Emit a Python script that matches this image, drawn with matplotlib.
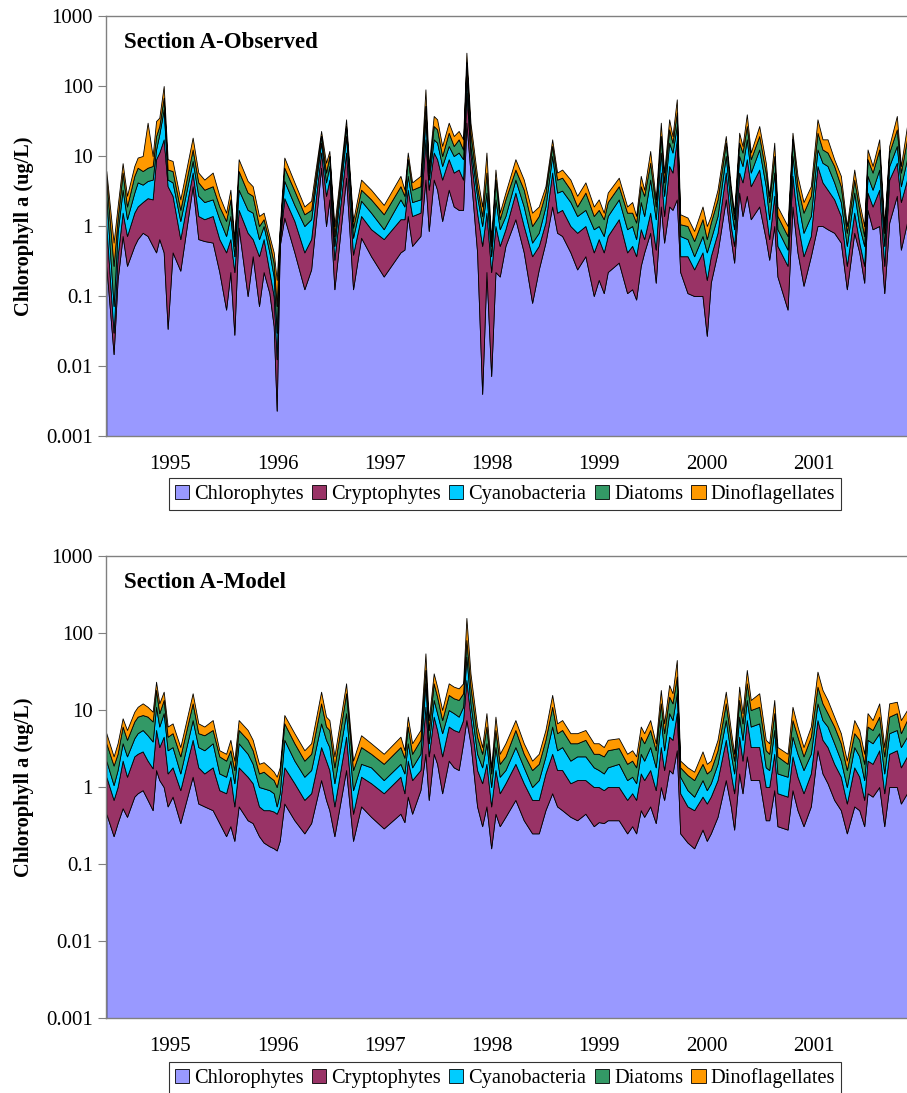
import numpy as np
import matplotlib.pyplot as plt
from matplotlib.patches import Patch
from matplotlib.ticker import NullLocator

plt.rcParams['font.family'] = ['Liberation Serif', 'DejaVu Serif']

# sample dates (decimal years), shared by both panels
dates = [1994.403, 1994.471, 1994.508, 1994.555, 1994.596, 1994.664, 1994.695, 1994.742, 1994.788, 1994.835,
         1994.867, 1994.897, 1994.938, 1994.975, 1995.021, 1995.093, 1995.208, 1995.261, 1995.317, 1995.395,
         1995.457, 1995.520, 1995.560, 1995.597, 1995.637, 1995.721, 1995.768, 1995.827, 1995.870, 1995.924,
         1995.964, 1995.992, 1996.020, 1996.063, 1996.157, 1996.250, 1996.313, 1996.406, 1996.452, 1996.483,
         1996.530, 1996.639, 1996.704, 1996.779, 1996.872, 1996.990, 1997.146, 1997.183, 1997.214, 1997.255,
         1997.332, 1997.379, 1997.410, 1997.456, 1997.488, 1997.535, 1997.596, 1997.643, 1997.689, 1997.730,
         1997.761, 1997.799, 1997.861, 1997.908, 1997.948, 1997.992, 1998.032, 1998.072, 1998.125, 1998.218,
         1998.296, 1998.374, 1998.436, 1998.498, 1998.561, 1998.607, 1998.654, 1998.731, 1998.794, 1998.871,
         1998.949, 1998.995, 1999.042, 1999.079, 1999.182, 1999.260, 1999.307, 1999.344, 1999.387, 1999.419,
         1999.475, 1999.527, 1999.574, 1999.605, 1999.652, 1999.683, 1999.723, 1999.755, 1999.823, 1999.885,
         1999.963, 2000.003, 2000.040, 2000.103, 2000.180, 2000.227, 2000.258, 2000.305, 2000.336, 2000.376,
         2000.413, 2000.492, 2000.553, 2000.585, 2000.632, 2000.662, 2000.756, 2000.802, 2000.849, 2000.905,
         2000.973, 2001.035, 2001.082, 2001.129, 2001.191, 2001.253, 2001.309, 2001.378, 2001.425, 2001.471,
         2001.502, 2001.549, 2001.611, 2001.658, 2001.704, 2001.775, 2001.813, 2001.870]

groups = ['Chlorophytes', 'Cryptophytes', 'Cyanobacteria', 'Diatoms', 'Dinoflagellates']
colors = ['#9999FF', '#993366', '#00CCFF', '#339966', '#FF9900']
years = [1995, 1996, 1997, 1998, 1999, 2000, 2001]

# Observed: stacked totals (top of each band, ug/L)
obs_chl = [0.27, 0.0148, 0.17, 0.72, 0.27, 0.52, 0.65, 0.80, 0.72, 0.52,
           0.42, 0.65, 0.42, 0.034, 0.42, 0.23, 3.7, 0.65, 0.61, 0.58,
           0.22, 0.064, 0.22, 0.028, 0.95, 0.10, 0.37, 0.072, 0.22, 0.11,
           0.037, 0.0023, 0.52, 1.32, 0.42, 0.125, 0.24, 6.8, 1.0, 2.4,
           0.125, 4.9, 0.125, 0.68, 0.37, 0.19, 0.42, 0.46, 1.39, 0.52,
           0.72, 4.6, 0.85, 4.6, 3.3, 1.18, 3.3, 1.9, 1.7, 1.7,
           29.9, 5.8, 0.42, 0.0040, 0.22, 0.0072, 0.22, 0.19, 0.52, 1.25,
           0.42, 0.080, 0.24, 0.58, 1.9, 0.80, 0.72, 0.42, 0.24, 0.37,
           0.10, 0.17, 0.11, 0.22, 0.30, 0.11, 0.125, 0.089, 0.27, 0.42,
           0.80, 0.155, 1.9, 0.58, 1.9, 1.7, 2.4, 0.22, 0.11, 0.10,
           0.10, 0.027, 0.155, 0.42, 2.4, 0.65, 0.30, 3.0, 1.39, 2.7,
           1.25, 1.9, 0.65, 0.33, 1.0, 0.19, 0.064, 1.9, 0.42, 0.14,
           0.37, 1.0, 1.0, 0.90, 0.80, 0.58, 0.125, 0.80, 0.42, 0.155,
           1.7, 0.90, 1.0, 0.11, 1.12, 2.7, 0.46, 1.12]
obs_cry = [1.0, 0.030, 0.37, 1.55, 0.72, 1.55, 1.9, 2.2, 2.5, 2.4,
           9.0, 11.2, 17.3, 3.7, 2.7, 0.65, 5.8, 1.39, 1.25, 1.39,
           0.65, 0.42, 0.65, 0.22, 1.7, 0.80, 0.65, 0.37, 0.65, 0.22,
           0.10, 0.0125, 0.61, 2.5, 1.18, 0.42, 0.65, 11.2, 2.7, 4.6,
           0.33, 11.2, 0.39, 1.39, 0.90, 0.65, 1.25, 1.25, 3.3, 1.39,
           1.55, 17.3, 3.3, 11.2, 9.0, 4.6, 9.0, 5.8, 6.4, 4.6,
           80, 10.6, 1.55, 0.52, 1.55, 0.22, 1.0, 0.52, 0.90, 3.0,
           1.0, 0.37, 0.52, 1.12, 5.8, 1.55, 1.7, 1.0, 0.80, 1.0,
           0.42, 0.65, 0.42, 0.72, 1.25, 0.42, 0.52, 0.37, 0.90, 0.65,
           1.55, 0.46, 5.8, 1.39, 7.2, 5.8, 17.3, 0.37, 0.37, 0.24,
           0.42, 0.17, 0.37, 0.80, 5.8, 1.0, 0.52, 5.8, 4.2, 9.0,
           3.7, 6.4, 1.55, 0.65, 2.7, 0.52, 0.27, 5.2, 1.12, 0.37,
           0.72, 7.2, 4.2, 3.3, 2.4, 1.39, 0.27, 1.55, 0.58, 0.27,
           3.0, 1.9, 3.3, 0.27, 4.6, 8.0, 2.2, 4.6]
obs_cya = [2.7, 0.072, 0.80, 3.3, 1.25, 3.0, 4.2, 3.9, 4.4, 4.6,
           12.4, 20.4, 46.4, 4.6, 4.2, 1.18, 8.5, 2.7, 2.2, 2.4,
           1.25, 0.72, 1.39, 0.37, 3.3, 1.7, 1.55, 0.65, 1.0, 0.42,
           0.19, 0.030, 0.68, 4.4, 2.0, 1.0, 1.25, 15.5, 4.2, 7.2,
           0.52, 19.3, 0.68, 2.3, 1.55, 0.90, 2.4, 1.9, 5.2, 2.2,
           2.4, 33.4, 4.6, 17.3, 15.5, 7.2, 13.9, 10, 11.2, 9.0,
           139, 13.9, 2.7, 1.0, 3.0, 0.37, 2.4, 0.90, 1.39, 4.6,
           1.9, 0.58, 0.80, 1.9, 10, 3.0, 3.2, 2.2, 1.39, 1.7,
           0.90, 1.0, 0.72, 1.39, 2.4, 0.90, 1.0, 0.65, 2.2, 1.39,
           4.6, 1.25, 11.2, 2.7, 15.5, 11.2, 26.8, 0.72, 0.65, 0.37,
           0.72, 0.42, 0.65, 1.39, 10, 1.9, 0.90, 10, 7.2, 17.3,
           5.8, 12.4, 3.7, 1.25, 5.8, 0.90, 0.46, 10, 2.4, 0.80,
           1.39, 12.4, 8.0, 7.2, 4.2, 2.2, 0.52, 3.0, 1.0, 0.52,
           5.2, 3.3, 6.4, 0.52, 7.2, 13.9, 3.7, 9.0]
obs_dia = [4.6, 0.27, 1.25, 5.8, 1.9, 5.2, 6.8, 6.1, 6.8, 7.2,
           19.3, 26.8, 68, 6.4, 6.1, 1.7, 12.4, 4.2, 3.3, 3.7,
           1.9, 1.18, 2.4, 0.52, 6.1, 3.0, 2.7, 1.0, 1.25, 0.58,
           0.30, 0.072, 0.80, 6.8, 3.2, 1.47, 1.7, 19.3, 5.8, 10,
           0.72, 26.8, 0.95, 3.3, 2.4, 1.47, 3.7, 2.7, 9.0, 3.3,
           3.7, 51.8, 5.8, 26.8, 24.0, 10, 21.5, 13.9, 17.3, 12.4,
           216, 21.5, 3.7, 1.39, 5.8, 0.52, 4.6, 1.25, 2.4, 6.4,
           3.3, 1.0, 1.39, 3.0, 13.9, 4.6, 4.9, 3.3, 1.9, 3.0,
           1.39, 1.7, 1.25, 2.2, 3.7, 1.55, 1.55, 1.12, 3.7, 2.7,
           8.0, 1.9, 19.3, 4.2, 24.0, 15.5, 41.6, 1.06, 1.0, 0.61,
           1.25, 0.65, 1.12, 2.4, 15.5, 3.0, 1.25, 15.5, 11.2, 26.8,
           9.0, 19.3, 5.8, 2.2, 10, 1.39, 0.72, 17.3, 3.7, 1.55,
           2.7, 21.5, 12.4, 11.2, 7.2, 3.7, 0.80, 4.6, 1.7, 0.72,
           9.0, 5.8, 12.4, 0.80, 11.2, 24.0, 5.8, 17.3]
obs_din = [6.1, 0.58, 1.9, 7.9, 2.7, 7.2, 9.5, 10, 29.9, 10,
           31.6, 35.3, 100, 9.0, 8.5, 2.4, 18.3, 5.8, 4.6, 5.8,
           2.7, 1.55, 3.3, 0.65, 9.0, 4.4, 3.7, 1.39, 1.55, 0.72,
           0.42, 0.17, 0.95, 9.5, 4.2, 1.9, 2.3, 22.8, 8.0, 11.8,
           1.0, 33.4, 1.18, 4.6, 3.3, 2.0, 5.2, 3.3, 11.2, 4.2,
           5.2, 89.6, 7.2, 37.3, 33.4, 13.9, 29.9, 19.3, 22.8, 17.3,
           299, 29.9, 5.2, 1.9, 11.2, 0.65, 6.4, 1.55, 3.0, 9.0,
           4.6, 1.55, 1.9, 3.7, 17.3, 5.8, 6.4, 4.6, 2.7, 4.2,
           1.9, 2.4, 1.55, 3.0, 4.9, 1.9, 2.2, 1.39, 5.2, 3.3,
           11.8, 2.4, 29.9, 5.8, 33.4, 19.3, 64.5, 1.47, 1.32, 0.85,
           1.9, 1.0, 1.39, 3.3, 19.3, 3.7, 1.55, 21.5, 13.9, 39.4,
           11.2, 26.8, 8.0, 2.7, 15.5, 1.9, 1.0, 21.5, 5.2, 2.2,
           3.7, 33.4, 17.3, 17.3, 9.0, 5.2, 1.0, 6.4, 2.2, 1.0,
           12.4, 7.2, 17.3, 1.0, 13.9, 37.3, 7.2, 26.8]

# Model: stacked totals (top of each band, ug/L)
mod_chl = [0.45, 0.23, 0.34, 0.53, 0.41, 0.75, 0.83, 0.91, 0.68, 0.50,
           1.66, 1.23, 1.0, 0.56, 0.75, 0.34, 1.36, 0.61, 0.56, 0.50,
           0.34, 0.23, 0.31, 0.20, 0.56, 0.37, 0.34, 0.23, 0.19, 0.17,
           0.16, 0.15, 0.20, 0.61, 0.37, 0.25, 0.34, 1.23, 0.68, 0.50,
           0.23, 1.66, 0.20, 0.56, 0.41, 0.29, 0.45, 0.35, 0.75, 0.45,
           0.91, 2.7, 0.68, 2.7, 2.0, 0.83, 2.2, 1.8, 1.66, 3.7,
           7.4, 3.7, 0.56, 0.31, 0.56, 0.16, 0.45, 0.31, 0.41, 0.68,
           0.37, 0.25, 0.25, 0.50, 0.83, 0.56, 0.50, 0.41, 0.37, 0.45,
           0.31, 0.35, 0.34, 0.37, 0.37, 0.25, 0.31, 0.25, 0.50, 0.41,
           0.56, 0.34, 1.0, 0.68, 1.66, 1.50, 3.0, 0.25, 0.19, 0.16,
           0.28, 0.20, 0.25, 0.41, 1.23, 0.56, 0.28, 1.50, 0.83, 2.5,
           1.23, 1.23, 0.37, 0.37, 0.91, 0.31, 0.28, 0.91, 0.50, 0.31,
           0.56, 3.0, 1.50, 1.12, 0.68, 0.50, 0.25, 0.56, 0.50, 0.31,
           0.83, 0.75, 1.0, 0.31, 1.0, 1.0, 0.61, 0.83]
mod_cry = [1.36, 0.68, 1.0, 2.2, 1.36, 2.5, 2.7, 2.9, 2.2, 1.75,
           5.5, 3.3, 4.5, 1.50, 1.8, 0.91, 4.1, 1.8, 1.50, 1.8,
           0.91, 0.83, 1.36, 0.56, 1.8, 1.36, 1.12, 0.56, 0.50, 0.50,
           0.48, 0.45, 0.56, 1.8, 1.12, 0.68, 0.83, 3.3, 2.2, 1.66,
           0.56, 4.5, 0.45, 1.36, 1.12, 0.83, 1.36, 0.83, 2.2, 1.23,
           1.66, 11.0, 2.5, 8.2, 5.5, 2.5, 6.1, 5.5, 5.2, 7.4,
           24.5, 8.2, 1.66, 1.12, 2.0, 0.56, 1.66, 0.83, 1.12, 2.0,
           1.12, 0.68, 0.68, 1.50, 2.7, 1.66, 1.66, 1.12, 1.23, 1.23,
           1.0, 1.0, 0.91, 1.0, 1.0, 0.68, 0.83, 0.68, 1.50, 1.23,
           1.66, 0.91, 3.3, 1.66, 4.5, 4.1, 9.1, 0.83, 0.56, 0.50,
           0.75, 0.61, 0.75, 1.23, 4.1, 1.50, 0.83, 4.5, 2.2, 7.4,
           3.3, 3.3, 1.0, 1.0, 2.7, 0.83, 0.75, 2.5, 1.36, 0.83,
           1.50, 7.4, 4.1, 3.3, 2.0, 1.36, 0.61, 1.8, 1.36, 0.68,
           2.2, 2.0, 3.0, 0.83, 2.7, 3.0, 1.8, 2.5]
mod_cya = [2.2, 1.06, 1.66, 3.7, 2.5, 4.3, 5.0, 5.5, 4.7, 3.9,
           11.0, 6.1, 9.1, 3.0, 3.3, 1.50, 7.4, 3.3, 3.0, 3.7,
           1.50, 1.36, 2.2, 1.12, 3.7, 2.7, 2.0, 1.0, 0.96, 0.91,
           0.83, 0.56, 0.83, 4.1, 2.2, 1.36, 1.66, 6.7, 4.1, 3.3,
           1.12, 9.1, 0.91, 2.0, 1.8, 1.23, 2.0, 1.50, 3.7, 1.8,
           2.7, 22.2, 3.7, 13.5, 9.1, 5.0, 10, 9.1, 8.2, 11.0,
           49.3, 12.2, 2.7, 1.8, 3.7, 1.0, 3.3, 1.36, 1.66, 3.3,
           1.8, 1.0, 1.23, 2.5, 6.1, 3.0, 3.3, 2.2, 2.5, 2.5,
           1.8, 1.66, 1.50, 1.8, 2.0, 1.23, 1.36, 1.12, 2.7, 2.2,
           3.3, 1.8, 7.4, 3.0, 9.1, 7.4, 16.5, 1.36, 0.91, 0.75,
           1.23, 0.91, 1.12, 2.0, 7.4, 2.7, 1.50, 8.2, 4.1, 13.5,
           6.1, 6.7, 1.8, 1.66, 5.5, 1.50, 1.36, 4.5, 2.7, 1.66,
           2.7, 12.2, 7.4, 6.1, 3.7, 2.2, 1.0, 3.3, 2.5, 1.23,
           4.1, 3.7, 5.0, 1.50, 5.0, 5.5, 3.3, 4.5]
mod_dia = [3.7, 1.9, 2.7, 6.1, 4.1, 7.1, 8.2, 8.6, 8.2, 7.1,
           18.2, 9.1, 13.5, 4.5, 5.0, 2.5, 12.2, 5.0, 4.7, 5.5,
           2.5, 2.2, 3.0, 1.66, 5.5, 4.1, 3.0, 1.50, 1.58, 1.36,
           1.23, 1.0, 1.50, 6.7, 3.7, 2.2, 2.7, 12.2, 6.1, 5.5,
           1.8, 16.5, 1.66, 3.3, 2.7, 2.0, 3.3, 2.4, 6.1, 2.7,
           4.1, 33.1, 5.5, 22.2, 14.9, 7.4, 15.7, 14.2, 13.5, 16.5,
           81, 20.1, 4.5, 2.7, 6.1, 1.50, 5.5, 2.0, 2.5, 5.5,
           2.7, 1.66, 2.0, 4.1, 11.0, 5.0, 5.5, 3.7, 3.7, 4.1,
           2.7, 2.7, 2.5, 3.0, 3.2, 2.0, 2.2, 1.8, 4.5, 3.7,
           5.5, 3.0, 12.2, 5.0, 14.9, 12.2, 27.1, 1.8, 1.43, 1.23,
           2.0, 1.50, 1.66, 3.0, 12.2, 4.1, 2.2, 13.5, 6.7, 22.2,
           10, 11.0, 3.0, 2.7, 9.1, 2.5, 2.0, 7.4, 4.5, 2.5,
           4.5, 20.1, 12.2, 9.1, 6.1, 3.7, 1.66, 5.0, 4.1, 2.0,
           6.1, 5.5, 8.2, 2.5, 8.2, 9.1, 5.0, 7.4]
mod_din = [5.0, 2.5, 3.7, 7.8, 5.5, 9.5, 11.0, 12.2, 11.0, 9.5,
           23.3, 12.2, 17.3, 6.1, 6.7, 3.3, 16.5, 6.7, 6.1, 7.4,
           3.0, 2.7, 4.1, 2.2, 7.4, 5.5, 4.1, 2.0, 2.1, 1.8,
           1.58, 1.36, 1.8, 8.6, 5.0, 3.0, 3.7, 17.3, 8.2, 7.4,
           2.5, 22.2, 2.2, 4.7, 3.7, 2.7, 4.5, 3.0, 8.2, 3.7,
           5.5, 54.4, 7.4, 29.9, 20.1, 10, 22.2, 20.1, 19.1, 22.2,
           157, 29.9, 6.1, 3.3, 9.1, 1.8, 8.2, 2.7, 3.7, 7.4,
           3.7, 2.2, 2.7, 5.5, 15.7, 6.7, 7.4, 5.0, 5.0, 5.5,
           3.7, 3.7, 3.3, 4.1, 4.3, 2.7, 3.0, 2.5, 6.1, 5.0,
           7.4, 3.7, 18.2, 6.7, 21.1, 16.5, 44.6, 2.2, 1.8, 1.58,
           2.9, 2.0, 2.2, 4.1, 17.3, 5.5, 2.7, 20.1, 9.1, 33.1,
           13.5, 16.5, 4.1, 3.7, 13.5, 3.3, 2.7, 11.0, 6.1, 3.3,
           6.1, 31.5, 18.2, 13.5, 8.2, 5.0, 2.2, 7.4, 5.5, 2.7,
           9.1, 7.4, 12.2, 3.3, 12.2, 12.8, 7.4, 10]

W, H = 907, 1093
fig = plt.figure(figsize=(W / 100, H / 100), dpi=100)


def draw_panel(top_px, bottom_px, levels, title, legend_y):
    ax = fig.add_axes([106 / W, 1 - bottom_px / H, 1 - 106 / W, (bottom_px - top_px) / H])
    lower = np.full(len(dates), 1e-4)
    for lev, c in zip(levels, colors):
        upper = np.asarray(lev, dtype=float)
        ax.fill_between(dates, lower, upper, facecolor=c, edgecolor='black', linewidth=0.6)
        lower = upper
    ax.set_yscale('log')
    ax.set_ylim(0.001, 1000)
    ax.set_xlim(1994.40, 2001.87)
    ax.set_yticks([0.001, 0.01, 0.1, 1, 10, 100, 1000])
    ax.set_yticklabels(['0.001', '0.01', '0.1', '1', '10', '100', '1000'])
    ax.yaxis.set_minor_locator(NullLocator())
    ax.set_xticks(years)
    ax.set_xticklabels([str(y) for y in years])
    ax.tick_params(axis='y', direction='out', length=5.5, color='#808080', labelsize=15, pad=4)
    ax.tick_params(axis='x', length=0, labelsize=15, pad=14)
    for s in ['left', 'top', 'bottom']:
        ax.spines[s].set_color('#808080')
        ax.spines[s].set_linewidth(1.0)
    ax.spines['right'].set_visible(False)
    ax.text(0.0225, 1 - 27 / (bottom_px - top_px), title, transform=ax.transAxes,
            fontsize=16.5, fontweight='bold', va='center', ha='left')
    fig.text(24 / W, 1 - (top_px + bottom_px) / 2 / H, 'Chlorophyll a (ug/L)', rotation=90,
             fontsize=14.7, fontweight='bold', ha='center', va='center')
    handles = [Patch(facecolor=c, edgecolor='black', linewidth=0.6) for c in colors]
    leg = fig.legend(handles, groups, ncol=5, loc='center', bbox_to_anchor=(505 / W, 1 - legend_y / H),
                     fontsize=14.7, frameon=True, fancybox=False, edgecolor='black',
                     handlelength=0.7, handleheight=0.7, handletextpad=0.25, columnspacing=0.4,
                     borderpad=0.3, borderaxespad=0)
    leg.get_frame().set_linewidth(0.8)
    return ax


draw_panel(16, 436, [obs_chl, obs_cry, obs_cya, obs_dia, obs_din], 'Section A-Observed', 494)
draw_panel(556, 1018, [mod_chl, mod_cry, mod_cya, mod_dia, mod_din], 'Section A-Model', 1078)

fig.savefig('out.png', dpi=100)
